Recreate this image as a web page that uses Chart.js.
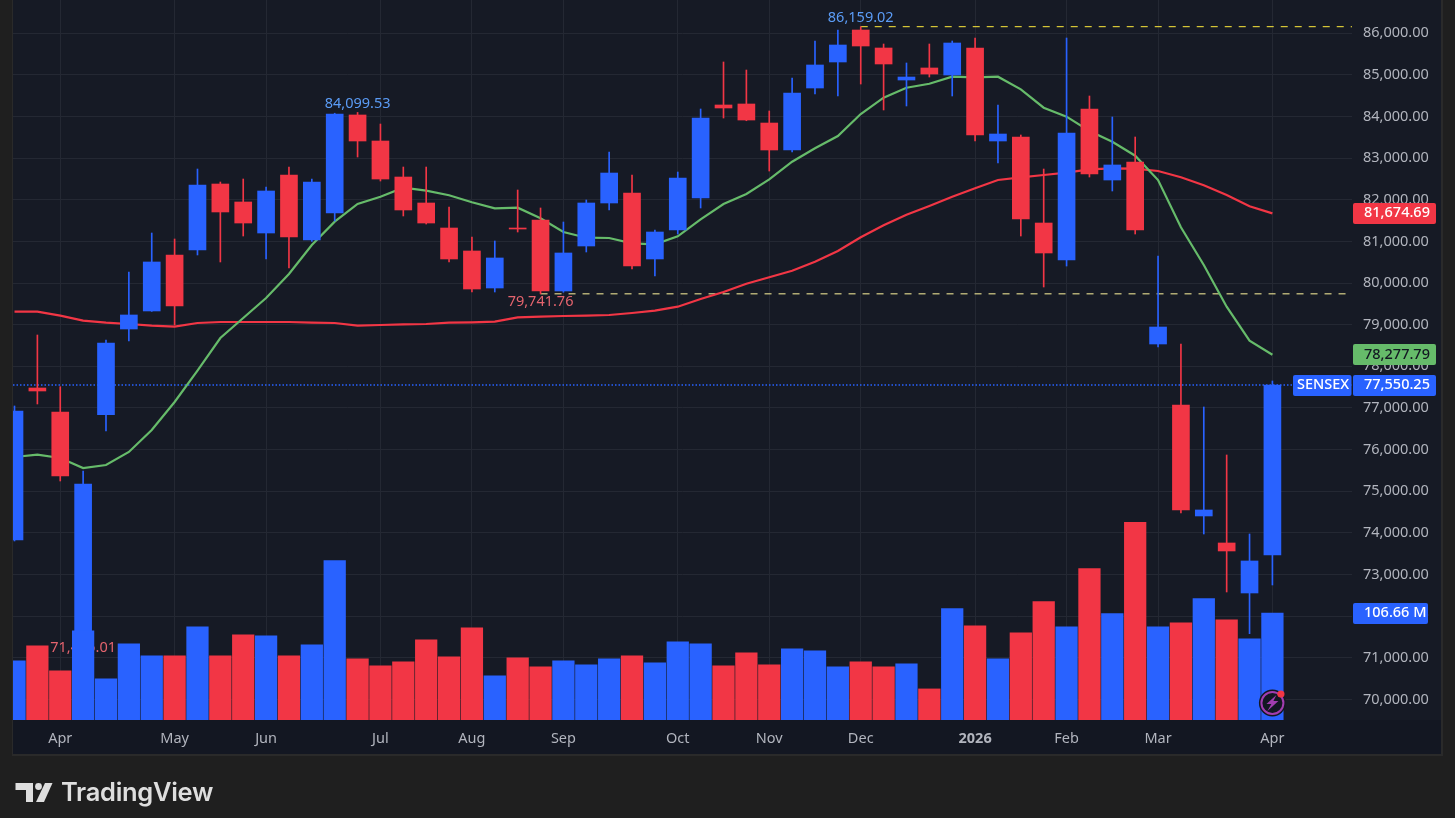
<!DOCTYPE html>
<html lang="en">
<head>
<meta charset="UTF-8">
<title>SENSEX weekly - TradingView</title>
<script src="https://cdn.jsdelivr.net/npm/chart.js@4/dist/chart.umd.min.js"></script>
<style>
html, body { margin: 0; padding: 0; background: #1f1f1f; overflow: hidden; }
#frame { position: absolute; left: 12px; top: 0; width: 1428px; height: 754px; background: #161a25;
         border-left: 1px solid #2a2a2a; border-right: 2px solid #2a2a2a; border-bottom: 2px solid #2a2a2a; }
#axisBand { position: absolute; left: 13px; top: 720px; width: 1428px; height: 34px; background: #131722; }
#wrap { position: absolute; left: 0; top: 0; width: 1455px; height: 818px; }
#logo { position: absolute; left: 0; top: 770px; width: 60px; height: 48px; }
#brand { position: absolute; left: 61px; top: 776px; font: 600 25.5px Inter, sans-serif; color: #dedede; letter-spacing: -0.3px; }
</style>
</head>
<body>
<div id="frame"></div>
<div id="axisBand"></div>
<div id="wrap"><canvas id="chart" width="1455" height="818"></canvas></div>
<svg id="logo" viewBox="0 0 60 48">
  <polygon fill="#dedede" points="15.5,13 33,13 33,32 26,32 26,20 15.5,20"/>
  <circle fill="#dedede" cx="38.5" cy="16.5" r="3.4"/>
  <polygon fill="#dedede" points="45,13 52.5,13 44,32 36,32"/>
</svg>
<div id="brand">TradingView</div>

<script>
// weekly candles, oldest first
const opens = [73829,77480,76904,71600,76839,78897,79330,80675,80795,82380,81948,81203,82596,81035,81684,84038,83413,82548,81924,81323,80771,
  79882,81323,81515,79810,80891,81924,82164,80579,81275,82044,84278,84302,83845,83197,84686,85311,86079,85647,84878,85167,84998,85647,83413,
  83509,81443,80555,84182,82476,82909,78537,77072,74406,73757,72556,73469];
const closes = [76928,77408,75366,75174,78561,79234,80507,79450,82356,81708,81443,82212,81107,82428,84062,83413,82500,81756,81443,80579,79858,
  80603,81299,79810,80723,81924,82644,80410,81227,82524,83965,84206,83917,83197,84566,85239,85719,85695,85263,84950,85022,85767,83557,83581,
  81539,80723,83605,82620,82837,81275,78945,74550,74550,73565,73325,77550.25];
const highs = [77048,78753,77511,75486,78633,80266,81203,81059,82740,82428,82500,82308,82788,82500,84080,84099.53,83821,82788,82788,81828,81107,
  81011,82236,81804,81467,81996,83149,82596,81275,82668,84182,85311,85118,84134,84926,85815,86079,86159.02,85743,85287,85743,85815,85887,84278,
  83557,82740,85887,84494,83990,83509,80651,78537,77024,75871,73973,77648];
const lows = [73805,77096,75246,71425.01,76447,78609,79320,78993,80675,80507,81131,80579,80362,81000,81491,83029,82452,81612,81419,80507,79786,
  79786,81227,79741.76,79780,80747,81756,80338,80170,81179,81804,83965,83900,82692,83149,84542,84494,84782,84158,84254,84950,84494,83413,82885,
  81131,79906,80410,82548,82212,81179,78465,74478,73973,72580,71578,72748];
// volume in millions
const volumes = [59,74,49,89,41,76,64,64,93,64,85,84,64,75,159,61,54,58,80,63,92,
  44,62,53,59,55,61,64,57,78,76,54,67,55,71,69,53,58,53,56,31,111,94,61,
  87,118,93,151,106,197,93,97,121,100,81,106.66];
// moving averages
const fastAvg = [75823,75878,75799,75558,75631,75943,76471,77144,77896,78681,79161,79642,80218,80915,81475,81900,82075,82291,82219,82109,81941,
  81796,81811,81556,81227,81090,81083,80956,80932,81124,81532,81900,82140,82493,82916,83238,83533,84062,84453,84693,84789,84958,84943,84958,
  84655,84213,83997,83653,83396,83060,82476,81340,80435,79433,78616,78277.79];
const slowAvg = [79313,79313,79217,79097,79049,79017,78977,78953,79041,79065,79065,79065,79065,79049,79041,78977,78993,79010,79017,79049,79058,
  79073,79178,79193,79210,79217,79234,79282,79337,79433,79618,79786,79985,80139,80298,80514,80771,81100,81388,81643,81852,82075,82277,82476,
  82541,82596,82652,82733,82757,82748,82692,82541,82349,82116,81845,81674.69];

// axis ticks
const priceTicks = [70000,71000,72000,73000,74000,75000,76000,77000,78000,79000,80000,81000,82000,83000,84000,85000,86000];
const monthIdx = [2,7,11,16,20,24,29,33,37,42,46,50,55];
const monthLabels = ['Apr','May','Jun','Jul','Aug','Sep','Oct','Nov','Dec','2026','Feb','Mar','Apr'];
// high / low labels on the chart
const markIdx = [15,37,23,3];
const markValues = [84099.53,86159.02,79741.76,71425.01];
const markText = ['84,099.53','86,159.02','79,741.76','71,425.01'];

const BLUE = '#2962ff', RED = '#f23645', GREEN = '#66bb6a';
const FONT = '"Noto Sans", sans-serif';
const X_MIN = -0.066, X_MAX = 58.48;

function isUp(i) { return closes[i] >= opens[i]; }
function candleColor(ctx) { return isUp(ctx.dataIndex) ? BLUE : RED; }
function fmt(v) { return v.toLocaleString('en-US', {minimumFractionDigits: 2, maximumFractionDigits: 2}); }

function chip(c, x, w, yc, bg, fg, text, tx) {
    c.fillStyle = bg;
    c.beginPath();
    c.roundRect(x, Math.round(yc - 10.5), w, 21, 2);
    c.fill();
    c.fillStyle = fg;
    c.textAlign = 'left';
    c.textBaseline = 'middle';
    c.fillText(text, tx, yc);
}

// text labels that sit under the bars
const markPlugin = {
    id: 'marks',
    beforeDatasetsDraw(chart) {
        const c = chart.ctx, xs = chart.scales.x, ys = chart.scales.y;
        c.save();
        c.font = '14.5px ' + FONT;
        c.textAlign = 'center';
        c.textBaseline = 'middle';
        markIdx.forEach(function(idx, k) {
            const isHigh = k < 2;
            c.fillStyle = isHigh ? '#5b9cf6' : '#e5646e';
            c.fillText(markText[k], xs.getPixelForValue(idx), ys.getPixelForValue(markValues[k]) + (isHigh ? -8.5 : 8));
        });
        c.restore();
    }
};

// price chips on the right and the little badge
const chipPlugin = {
    id: 'chips',
    afterDraw(chart) {
        const c = chart.ctx, ys = chart.scales.y, yv = chart.scales.yVol, xs = chart.scales.x;
        const last = closes.length - 1;
        c.save();
        c.font = '500 14.5px ' + FONT;
        chip(c, 1353, 83, ys.getPixelForValue(slowAvg[last]), RED, '#ffffff', fmt(slowAvg[last]), 1364);
        chip(c, 1353, 83, ys.getPixelForValue(fastAvg[last]), GREEN, '#131722', fmt(fastAvg[last]), 1364);
        chip(c, 1293, 58.5, ys.getPixelForValue(closes[last]), BLUE, '#ffffff', 'SENSEX', 1297);
        chip(c, 1353, 83, ys.getPixelForValue(closes[last]), BLUE, '#ffffff', fmt(closes[last]), 1364);
        chip(c, 1353, 75, yv.getPixelForValue(volumes[last]), BLUE, '#ffffff', volumes[last].toFixed(2) + ' M', 1364);

        const bx = xs.getPixelForValue(last), by = 703;
        c.beginPath(); c.arc(bx, by, 13.5, 0, Math.PI * 2); c.fillStyle = '#131722'; c.fill();
        c.beginPath(); c.arc(bx, by, 11, 0, Math.PI * 2); c.strokeStyle = '#a23db0'; c.lineWidth = 2; c.stroke();
        c.beginPath();
        c.moveTo(bx + 4, by - 8); c.lineTo(bx - 6, by + 1); c.lineTo(bx - 1, by + 1);
        c.lineTo(bx - 5, by + 8); c.lineTo(bx + 6, by - 2); c.lineTo(bx + 1, by - 2);
        c.closePath(); c.fillStyle = '#a23db0'; c.fill();
        c.beginPath(); c.arc(bx + 8.5, by - 9, 3.6, 0, Math.PI * 2); c.fillStyle = '#f23645'; c.fill();
        c.restore();
    }
};

function points(list) { return list.map(function(v, i) { return {x: i, y: v}; }); }
function ranges(a, b) { return a.map(function(v, i) { return {x: i, y: [v, b[i]]}; }); }
function hline(v, from) { return [{x: from, y: v}, {x: X_MAX, y: v}]; }

new Chart(document.getElementById('chart').getContext('2d'), {
    type: 'bar',
    plugins: [markPlugin, chipPlugin],
    data: {
        datasets: [
            {label: 'Volume', yAxisID: 'yVol', data: points(volumes), backgroundColor: candleColor, barThickness: 21.6, grouped: false, order: 1},
            {label: 'Body', data: ranges(opens, closes), backgroundColor: candleColor, barThickness: 17, grouped: false, order: 2},
            {label: 'Wick', data: ranges(lows, highs), backgroundColor: candleColor, barThickness: 1, grouped: false, order: 3},
            {label: 'Fast MA', type: 'line', data: points(fastAvg), borderColor: GREEN, borderWidth: 2.2, pointRadius: 0, order: 4},
            {label: 'Slow MA', type: 'line', data: points(slowAvg), borderColor: RED, borderWidth: 2.2, pointRadius: 0, order: 5},
            {label: 'High', type: 'line', data: hline(markValues[1], markIdx[1]), borderColor: '#ffeb3b', borderWidth: 1, borderDash: [7, 7], pointRadius: 0, order: 6},
            {label: 'Low', type: 'line', data: hline(markValues[2], markIdx[2]), borderColor: '#fff59d', borderWidth: 1, borderDash: [7, 7], pointRadius: 0, order: 6},
            {label: 'Last', type: 'line', data: hline(closes[closes.length - 1], X_MIN), borderColor: BLUE, borderWidth: 1.4, borderDash: [1.5, 2], pointRadius: 0, order: 6}
        ]
    },
    options: {
        responsive: false,
        animation: false,
        layout: {autoPadding: false, padding: {left: 13, top: 0, right: 14, bottom: 64}},
        plugins: {legend: {display: false}, tooltip: {enabled: false}},
        scales: {
            x: {
                type: 'linear',
                offset: false,
                min: X_MIN,
                max: X_MAX,
                afterBuildTicks(s) { s.ticks = monthIdx.map(function(v) { return {value: v}; }); },
                afterFit(s) { s.height = 34; s.paddingLeft = 0; s.paddingRight = 0; },
                grid: {color: '#242833', drawTicks: false, offset: false},
                border: {display: false},
                ticks: {
                    autoSkip: false,
                    maxRotation: 0,
                    padding: 10,
                    color: '#b2b5be',
                    font(ctx) {
                        const bold = ctx.tick && ctx.tick.value === 42;
                        return {family: FONT, size: 14.5, weight: bold ? 'bold' : 'normal'};
                    },
                    callback(v) { return monthLabels[monthIdx.indexOf(v)]; }
                }
            },
            y: {
                position: 'right',
                min: 69505,
                max: 86800,
                afterBuildTicks(s) { s.ticks = priceTicks.map(function(v) { return {value: v}; }); },
                // the label padding otherwise pushes the scale 20px down from the top
                afterFit(s) { s.width = 89; s.paddingTop = 0; s.paddingBottom = 0; },
                grid: {color: '#242833', drawTicks: false},
                border: {display: false},
                ticks: {
                    padding: 11,
                    color: '#b2b5be',
                    font: {family: FONT, size: 14.5},
                    callback(v) { return fmt(v); }
                }
            },
            yVol: {display: false, min: 0, max: 718}
        }
    }
});
</script>
</body>
</html>
